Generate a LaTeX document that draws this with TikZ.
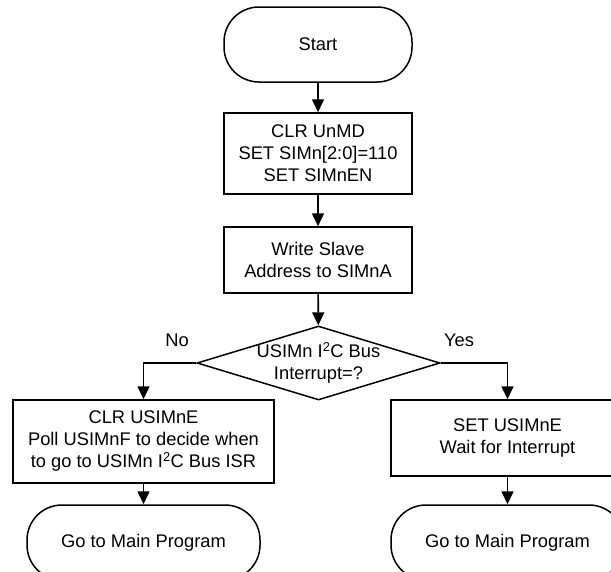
\documentclass[tikz,border=0pt]{standalone}
\usepackage{fontspec}
\setmainfont{Liberation Sans}
\usetikzlibrary{shapes.geometric,arrows.meta}

\begin{document}
\begin{tikzpicture}[x=1pt,y=-1pt,
  every node/.style={font=\fontsize{18.3}{22}\selectfont},
  box/.style={draw,line width=1.5pt,inner sep=0pt,align=center},
  term/.style={box,rounded corners=35pt,minimum width=188pt,minimum height=75pt},
  cond/.style={draw,line width=1.5pt,shape=diamond,inner sep=0pt,
     minimum width=243pt,minimum height=74pt},
  flow/.style={line width=1.6pt,-{Triangle[length=13pt,width=12pt]}}]
\useasboundingbox (0,0) rectangle (611,571);
\clip (0,0) rectangle (611,571);
\node[term] (start) at (318,44.5) {Start};
\node[box,minimum width=188pt,minimum height=81pt] (clr) at (318,153.5)
  {CLR UnMD\\SET SIMn[2:0]=110\\SET SIMnEN};
\node[box,minimum width=188pt,minimum height=66pt] (addr) at (318,260)
  {Write Slave\\Address to SIMnA};
\node[cond,label={[align=center]center:USIMn I\textsuperscript{2}C Bus\\Interrupt=?}]
  (irq) at (318.5,363) {};
\node (no) at (177,340) {No};
\node (yes) at (459,340) {Yes};
\node[box,minimum width=261pt,minimum height=83pt] (poll) at (143.5,441.5)
  {CLR USIMnE\\Poll USIMnF to decide when\\to go to USIMn I\textsuperscript{2}C Bus ISR};
\node[box,minimum width=233pt,minimum height=76pt] (wait) at (507.5,438)
  {SET USIMnE\\Wait for Interrupt};
\node[term,minimum width=233pt] (endl) at (143.5,542.5) {Go to Main Program};
\node[term,minimum width=233pt] (endr) at (507.5,542.5) {Go to Main Program};
\draw[flow] (start)--(clr);
\draw[flow] (clr)--(addr);
\draw[flow] (addr)--(irq);
\draw[flow] (irq.west) -| (poll.north);
\draw[flow] (irq.east) -| (wait.north);
\draw[flow] (poll)--(endl);
\draw[flow] (wait)--(endr);
\end{tikzpicture}
\end{document}
